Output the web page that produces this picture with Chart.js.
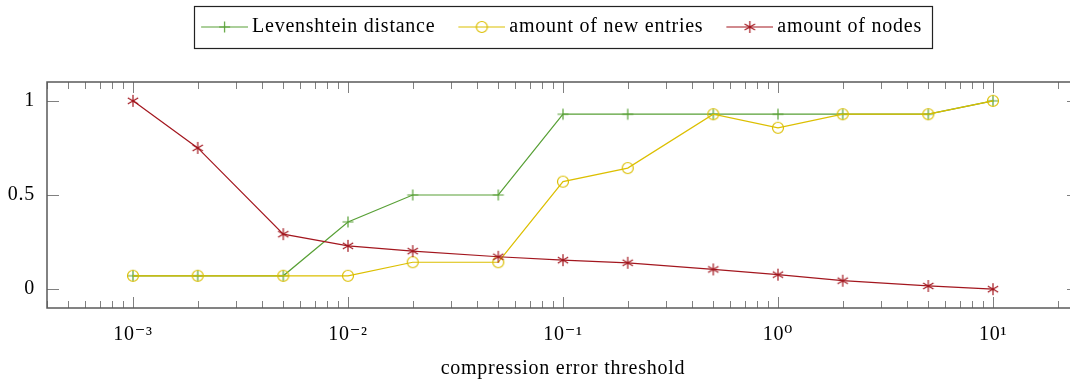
<!DOCTYPE html>
<html>
<head>
<meta charset="utf-8">
<script src="https://cdn.jsdelivr.net/npm/chart.js@4.4.0/dist/chart.umd.min.js"></script>
<style>
  html, body { margin: 0; padding: 0; background: #fff; overflow: hidden; }
  #wrap { width: 1070px; height: 385px; overflow: hidden; }
</style>
</head>
<body>
<div id="wrap"><canvas id="chart" width="1079" height="385"></canvas></div>
<script>
// data
const thresholds = [0.001, 0.002, 0.005, 0.01, 0.02, 0.05, 0.1, 0.2, 0.5, 1, 2, 5, 10];
const levenshtein = [0.071, 0.071, 0.071, 0.357, 0.5, 0.5, 0.929, 0.929, 0.929, 0.929, 0.929, 0.929, 1.0];
const newEntries = [0.071, 0.071, 0.071, 0.071, 0.143, 0.143, 0.571, 0.643, 0.929, 0.857, 0.929, 0.929, 1.0];
const nodes = [1.0, 0.75, 0.292, 0.23, 0.202, 0.172, 0.154, 0.14, 0.105, 0.077, 0.045, 0.017, 0.0];
const seriesLabels = ['Levenshtein distance', 'amount of new entries', 'amount of nodes'];
const xTicks = [0.001, 0.01, 0.1, 1, 10];
const xTickLabels = ['10\u207B\u00B3', '10\u207B\u00B2', '10\u207B\u00B9', '10\u2070', '10\u00B9'];
const yTicks = [0, 0.5, 1];
const yTickLabels = ['0', '0.5', '1'];
const minorSteps = [2, 3, 4, 5, 6, 7, 8, 9];

const green = '#58a036';
const yellow = '#dcbf00';
const red = '#a3161e';
const FONT = "'Liberation Serif', 'DejaVu Serif', serif";

function drawMark(g, kind, x, y, color) {
  g.save();
  g.strokeStyle = color;
  g.lineWidth = 1.2;
  g.beginPath();
  if (kind === 'plus') {
    g.moveTo(x - 5.5, y); g.lineTo(x + 5.5, y);
    g.moveTo(x, y - 5.5); g.lineTo(x, y + 5.5);
  } else if (kind === 'circle') {
    g.arc(x, y, 5.5, 0, Math.PI * 2);
  } else {
    for (let i = 0; i < 3; i++) {
      const a = Math.PI / 2 + i * Math.PI / 3;
      g.moveTo(x + 6 * Math.cos(a), y + 6 * Math.sin(a));
      g.lineTo(x - 6 * Math.cos(a), y - 6 * Math.sin(a));
    }
  }
  g.stroke();
  g.restore();
}

function markImage(kind, color) {
  const c = document.createElement('canvas');
  c.width = 16; c.height = 16;
  drawMark(c.getContext('2d'), kind, 8, 8, color);
  return c;
}

// legend sample: short line with the marker in the middle
function legendImage(kind, color) {
  const c = document.createElement('canvas');
  c.width = 68; c.height = 16;
  const g = c.getContext('2d');
  g.strokeStyle = color;
  g.lineWidth = 1.2;
  g.beginPath(); g.moveTo(21, 8); g.lineTo(68, 8); g.stroke();
  drawMark(g, kind, 44.5, 8, color);
  return c;
}

const kinds = ['plus', 'circle', 'star'];
const colors = [green, yellow, red];
const values = [levenshtein, newEntries, nodes];
const legendImages = kinds.map((k, i) => legendImage(k, colors[i]));

const datasets = values.map((vals, i) => ({
  label: seriesLabels[i],
  data: thresholds.map((t, j) => ({ x: t, y: vals[j] })),
  borderColor: colors[i],
  backgroundColor: colors[i],
  borderWidth: 1.2,
  pointStyle: markImage(kinds[i], colors[i]),
  pointRadius: 6,
  tension: 0,
  fill: false,
  order: 3 - i
}));

const xMin = Math.pow(10, -3.4);
const xMax = Math.pow(10, 1.4);

// the original face is a little wider than Liberation Serif
const textSpacing = {
  id: 'textSpacing',
  beforeUpdate(chart) { chart.ctx.letterSpacing = '0.75px'; },
  beforeDraw(chart) { chart.ctx.letterSpacing = '0.75px'; },
  afterLayout(chart) {
    // legend block sits a bit left of the axis centre in the original
    chart.legend.left -= 9;
    chart.legend.right -= 9;
  }
};

const frameTicks = {
  id: 'frameTicks',
  afterDatasetsDraw(chart) {
    const { ctx, chartArea: a } = chart;
    const xs = chart.scales.x, ys = chart.scales.y;
    ctx.save();
    ctx.strokeStyle = '#808080';
    ctx.lineWidth = 1;
    ctx.beginPath();
    for (let d = -4; d <= 1; d++) {
      minorSteps.forEach(m => {
        const v = m * Math.pow(10, d);
        if (v < xMin || v > xMax) return;
        const px = Math.round(xs.getPixelForValue(v)) + 0.5;
        ctx.moveTo(px, a.bottom); ctx.lineTo(px, a.bottom - 7);
        ctx.moveTo(px, a.top); ctx.lineTo(px, a.top + 7);
      });
    }
    xTicks.forEach(v => {
      const px = Math.round(xs.getPixelForValue(v)) + 0.5;
      ctx.moveTo(px, a.bottom); ctx.lineTo(px, a.bottom - 11);
      ctx.moveTo(px, a.top); ctx.lineTo(px, a.top + 11);
    });
    yTicks.forEach(v => {
      const py = Math.round(ys.getPixelForValue(v)) + 0.5;
      ctx.moveTo(a.left, py); ctx.lineTo(a.left + 12, py);
      ctx.moveTo(a.right, py); ctx.lineTo(a.right - 12, py);
    });
    ctx.stroke();
    ctx.strokeStyle = '#5a5a5a';
    ctx.lineWidth = 1.5;
    ctx.strokeRect(a.left, a.top, a.right - a.left, a.bottom - a.top);
    ctx.restore();
  },
  afterDraw(chart) {
    const boxes = chart.legend.legendHitBoxes;
    if (!boxes || !boxes.length) return;
    const first = boxes[0], last = boxes[boxes.length - 1];
    const left = first.left + 8;
    const right = last.left + last.width + 10;
    const top = first.top - 11;
    const bottom = first.top + first.height + 11;
    const { ctx } = chart;
    ctx.save();
    ctx.strokeStyle = '#222';
    ctx.lineWidth = 1.2;
    ctx.strokeRect(Math.round(left) + 0.5, Math.round(top) + 0.5, Math.round(right - left), Math.round(bottom - top));
    ctx.restore();
  }
};

new Chart(document.getElementById('chart'), {
  type: 'line',
  data: { datasets: datasets },
  options: {
    responsive: false,
    animation: false,
    devicePixelRatio: 1,
    layout: { autoPadding: false, padding: { top: 9, left: 0, right: 0, bottom: 0 } },
    plugins: {
      tooltip: { enabled: false },
      legend: {
        position: 'top',
        fullSize: false,
        labels: {
          usePointStyle: true,
          pointStyleWidth: 56,
          padding: 8,
          color: '#000',
          font: { family: FONT, size: 20 },
          sort: (a, b) => a.datasetIndex - b.datasetIndex,
          generateLabels: chart => chart.data.datasets.map((ds, i) => ({
            text: ds.label,
            datasetIndex: i,
            pointStyle: legendImages[i],
            fillStyle: ds.borderColor,
            strokeStyle: ds.borderColor,
            lineWidth: 0,
            hidden: false,
            fontColor: '#000'
          }))
        }
      }
    },
    scales: {
      x: {
        type: 'logarithmic',
        position: 'bottom',
        min: xMin,
        max: xMax,
        grid: { display: false, drawTicks: false, tickLength: 0 },
        border: { display: false },
        afterBuildTicks: s => { s.ticks = xTicks.map(v => ({ value: v })); },
        afterFit: s => { s.height = 77; },
        ticks: {
          autoSkip: false,
          maxRotation: 0,
          padding: 15,
          color: '#000',
          font: { family: FONT, size: 20 },
          callback: v => xTickLabels[xTicks.indexOf(v)]
        },
        title: {
          display: true,
          text: 'compression error threshold',
          color: '#000',
          font: { family: FONT, size: 20 },
          padding: { top: 0, bottom: 4 }
        }
      },
      xTop: {
        type: 'logarithmic',
        position: 'top',
        min: xMin,
        max: xMax,
        grid: { display: false, drawTicks: false },
        border: { display: false },
        ticks: { display: false },
        afterFit: s => { s.height = 35; }
      },
      y: {
        min: -0.1,
        max: 1.1,
        grid: { display: false, drawTicks: false, tickLength: 0 },
        border: { display: false },
        afterBuildTicks: s => { s.ticks = yTicks.map(v => ({ value: v })); },
        afterFit: s => { s.width = 47; },
        ticks: {
          padding: 12,
          color: '#000',
          font: { family: FONT, size: 20 },
          callback: v => yTickLabels[yTicks.indexOf(v)]
        }
      }
    }
  },
  plugins: [textSpacing, frameTicks]
});
</script>
</body>
</html>
